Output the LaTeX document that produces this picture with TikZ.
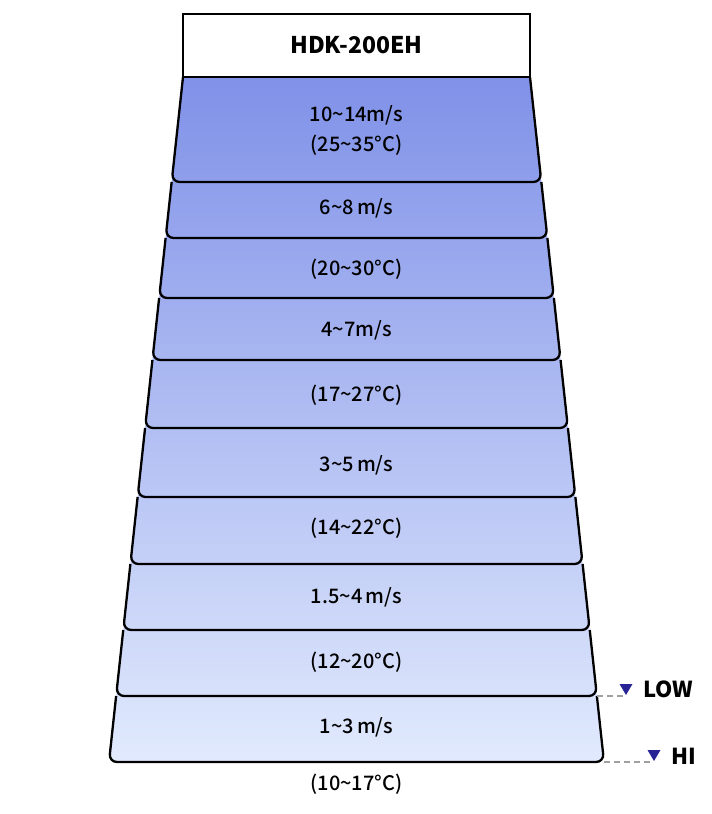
\documentclass[tikz,border=0pt]{standalone}
\usepackage{fontspec}
\setmainfont{Noto Sans CJK KR}
\newfontfamily\bodyfont{Noto Sans CJK KR Medium}
\definecolor{topblue}{RGB}{128,145,232}
\definecolor{botblue}{RGB}{225,234,253}
\definecolor{navy}{RGB}{40,36,150}
\definecolor{dashgray}{RGB}{160,160,160}
\tikzset{
  outline/.style={line width=2.3pt, black, rounded corners=8pt, line join=round},
  bandtext/.style={font=\bodyfont\fontsize{20}{23}\selectfont, inner sep=0pt},
  sidelabel/.style={font=\bfseries\fontsize{22}{25}\selectfont, anchor=west, inner sep=0pt},
  mark tri/.style={fill=navy},
  guide/.style={dashgray, line width=1.2pt, dash pattern=on 6pt off 4pt}
}
\begin{document}
\begin{tikzpicture}[x=1pt,y=-1pt]
\useasboundingbox (0,0) rectangle (712,814);
\foreach \i/\y in {0/77,1/182,2/238,3/298,4/360,5/428,6/497,7/564,8/630,9/696,10/762}{
  \coordinate (L\i) at ({183-(\y-77)*0.10803},\y);
  \coordinate (R\i) at ({530+(\y-77)*0.10803},\y);
}
% shaded body
\shade[top color=topblue, bottom color=botblue, rounded corners=8pt] (L0) -- (L10) -- (R10) -- (R0);
% band outlines
\foreach \i [evaluate=\i as \j using int(\i-1)] in {1,...,10}{
  \draw[outline] (L\j) -- (L\i) -- (R\i) -- (R\j);
}
% title
\node (title) [draw, line width=2.3pt, fill=white, minimum width=347pt, minimum height=63pt, inner sep=0pt,
  font=\bfseries\fontsize{23}{27}\selectfont] at (356.5,45.5) {HDK-200EH};
% band texts
\node (t1)  [bandtext] at (356.5,115) {10\textasciitilde14m/s};
\node (t1b) [bandtext] at (356.5,145) {(25\textasciitilde35°C)};
\node (t2)  [bandtext] at (356.5,208) {6\textasciitilde8\,m/s};
\node (t3)  [bandtext] at (356.5,269) {(20\textasciitilde30°C)};
\node (t4)  [bandtext] at (356.5,330) {4\textasciitilde7m/s};
\node (t5)  [bandtext] at (356.5,395) {(17\textasciitilde27°C)};
\node (t6)  [bandtext] at (356.5,465) {3\textasciitilde5\,m/s};
\node (t7)  [bandtext] at (356.5,528) {(14\textasciitilde22°C)};
\node (t8)  [bandtext] at (356.5,597) {1.5\textasciitilde4\,m/s};
\node (t9)  [bandtext] at (356.5,662) {(12\textasciitilde20°C)};
\node (t10) [bandtext] at (356.5,727) {1\textasciitilde3\,m/s};
\node (t11) [bandtext] at (356.5,784) {(10\textasciitilde17°C)};
% LOW / HI markers
\coordinate (lowapex) at (626,696);
\coordinate (hiapex) at (654,762);
\draw[guide] (R9) -- (lowapex);
\draw[guide] (R10) -- (hiapex);
\fill[mark tri] (lowapex) ++(0,-1) -- ++(-6.5,-11) -- ++(13,0) -- cycle;
\fill[mark tri] (hiapex) ++(0,-1) -- ++(-6.5,-11) -- ++(13,0) -- cycle;
\node (low) [sidelabel] at (643,689) {LOW};
\node (hi)  [sidelabel] at (671,756) {HI};
\end{tikzpicture}
\end{document}
